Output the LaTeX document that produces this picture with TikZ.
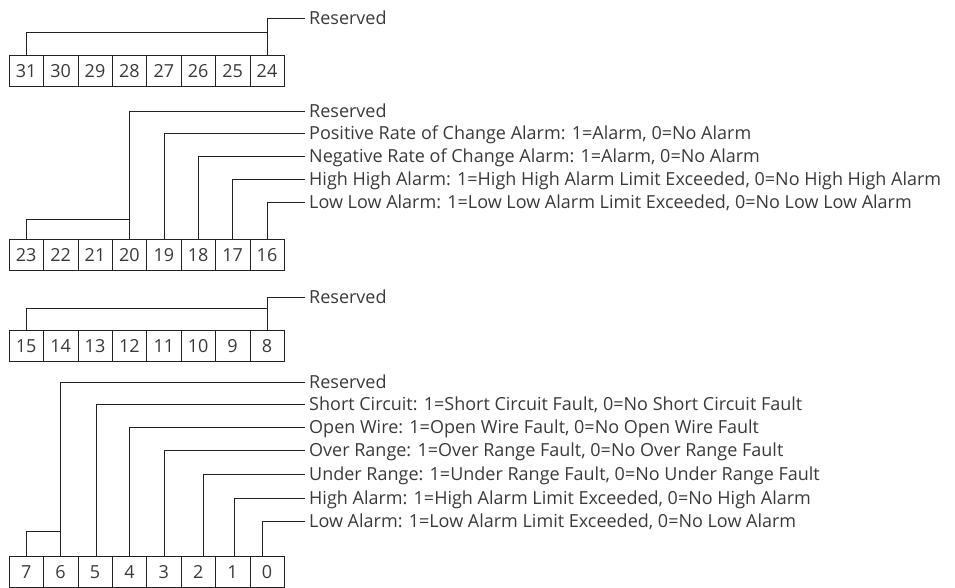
\documentclass[tikz,border=0pt]{standalone}
\usepackage{fontspec}
\setmainfont{Open Sans}
\usetikzlibrary{positioning}
\definecolor{ink}{HTML}{222222}
\definecolor{textgray}{HTML}{3A3A3A}
\tikzset{line width=1.1pt,
  every node/.style={font=\fontsize{18}{21}\selectfont,text=textgray},
  bitbox/.style={draw=ink,minimum width=34.4pt,minimum height=31.5pt,inner sep=0pt,outer sep=0pt},
  wire/.style={draw=ink},
  desc/.style={anchor=west,inner xsep=4pt,inner ysep=0pt,text height=12.9pt,text depth=0pt}}
\begin{document}
\begin{tikzpicture}[x=1pt,y=-1pt]
\useasboundingbox(0,0)rectangle(955,588);
% bit boxes, four rows of eight
\foreach \hibit/\rowy in {31/55,23/239,15/330,7/556}{
  \foreach \k in {0,...,7}{
    \pgfmathtruncatemacro\bit{\hibit-\k}
    \node[bitbox](b\bit)at({9+34.4*(\k+.5)},\rowy+15.75){\bit};}}
% bits 31..24
\node[desc](r24)at(305,18){Reserved};
\draw[wire](b24.north)|-(r24.west);
\draw[wire](b31.north)--++(0,-23)-|(b24.north);
% bits 23..16
\node[desc](r20)at(305,111){Reserved};
\node[desc](r19)at(305,133.5){Positive Rate of Change Alarm: 1=Alarm, 0=No Alarm};
\node[desc](r18)at(305,156.5){Negative Rate of Change Alarm: 1=Alarm, 0=No Alarm};
\node[desc](r17)at(305,179.5){High High Alarm: 1=High High Alarm Limit Exceeded, 0=No High High Alarm};
\node[desc](r16)at(305,202.5){Low Low Alarm: 1=Low Low Alarm Limit Exceeded, 0=No Low Low Alarm};
\foreach \bit in {20,19,18,17,16}{\draw[wire](b\bit.north)|-(r\bit.west);}
\draw[wire](b23.north)--++(0,-20)-|(b20.north);
% bits 15..8
\node[desc](r8)at(305,296.7){Reserved};
\draw[wire](b8.north)|-(r8.west);
\draw[wire](b15.north)--++(0,-22)-|(b8.north);
% bits 7..0
\node[desc](r6)at(305,381.7){Reserved};
\node[desc](r5)at(305,404.3){Short Circuit: 1=Short Circuit Fault, 0=No Short Circuit Fault};
\node[desc](r4)at(305,427.3){Open Wire: 1=Open Wire Fault, 0=No Open Wire Fault};
\node[desc](r3)at(305,450.3){Over Range: 1=Over Range Fault, 0=No Over Range Fault};
\node[desc](r2)at(305,474){Under Range: 1=Under Range Fault, 0=No Under Range Fault};
\node[desc](r1)at(305,497.7){High Alarm: 1=High Alarm Limit Exceeded, 0=No High Alarm};
\node[desc](r0)at(305,521){Low Alarm: 1=Low Alarm Limit Exceeded, 0=No Low Alarm};
\foreach \bit/\dx in {6/0,5/1.5,4/0,3/0,2/5,1/1.5,0/-5}{\draw[wire]([xshift=\dx pt]b\bit.north)|-(r\bit.west);}
\draw[wire](b7.north)--++(0,-25)-|(b6.north);
\end{tikzpicture}
\end{document}
